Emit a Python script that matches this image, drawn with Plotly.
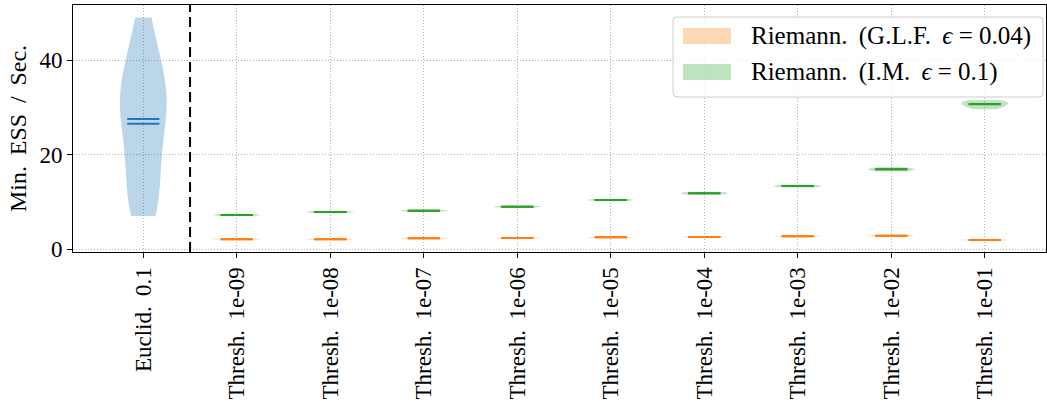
import numpy as np
import plotly.graph_objects as go

# ---------------- data ----------------
tick_labels = ["Euclid.\u2009 0.1", "Thresh.\u2009 1e-09", "Thresh.\u2009 1e-08", "Thresh.\u2009 1e-07",
               "Thresh.\u2009 1e-06", "Thresh.\u2009 1e-05", "Thresh.\u2009 1e-04", "Thresh.\u2009 1e-03",
               "Thresh.\u2009 1e-02", "Thresh.\u2009 1e-01"]
positions = [1, 2, 3, 4, 5, 6, 7, 8, 9, 10]

# Euclidean run: sample values (violin shape) plus mean / median
euclid_samples = [7, 8, 10, 13, 16, 19, 22, 25, 28, 30, 31, 32, 33, 35, 38, 41, 44, 49]
euclid_mean = 27.5
euclid_median = 26.5

glf_samples = [
    [1.90, 2.00, 2.05, 2.10, 2.20],
    [1.90, 2.00, 2.05, 2.10, 2.20],
    [2.11, 2.21, 2.26, 2.31, 2.41],
    [2.18, 2.28, 2.33, 2.38, 2.48],
    [2.32, 2.42, 2.47, 2.52, 2.62],
    [2.39, 2.49, 2.54, 2.59, 2.69],
    [2.54, 2.64, 2.69, 2.74, 2.84],
    [2.67, 2.77, 2.82, 2.87, 2.97],
    [1.75, 1.85, 1.90, 1.95, 2.05],
]
im_samples = [
    [6.95, 7.10, 7.20, 7.30, 7.45],
    [7.58, 7.73, 7.83, 7.93, 8.08],
    [7.85, 8.00, 8.10, 8.20, 8.35],
    [8.70, 8.86, 8.96, 9.06, 9.22],
    [10.10, 10.27, 10.37, 10.47, 10.64],
    [11.50, 11.68, 11.80, 11.92, 12.10],
    [13.00, 13.20, 13.33, 13.46, 13.66],
    [16.45, 16.70, 16.87, 17.04, 17.29],
    [29.60, 30.30, 30.70, 31.10, 31.50],
]
legend_labels = ["Riemann.\u2009 (G.L.F.\u2009 <i>ϵ</i> = 0.04)", "Riemann.\u2009 (I.M.\u2009 <i>ϵ</i> = 0.1)"]
y_title = "Min.\u2009 ESS\u2009 /\u2009 Sec.\u2002\u2002"

# ---------------- style ----------------
BLUE, ORANGE, GREEN = "#1f77b4", "#ff7f0e", "#2ca02c"
def rgba(hexc, a):
    h = hexc.lstrip("#")
    return f"rgba({int(h[0:2],16)},{int(h[2:4],16)},{int(h[4:6],16)},{a})"

FONT = "Liberation Serif"
FS_TICK = 23
FS_LEG = 25
FS_TITLE = 24

W, H = 1047, 408
ML, MR, MT, MB = 73, 1, 5, 156
PW, PH = W - ML - MR, H - MT - MB

fig = go.Figure()

def add_violin(pos, samples, color, bw=None):
    kw = dict(bandwidth=bw) if bw else {}
    fig.add_trace(go.Violin(
        x=[pos] * len(samples), y=samples, width=0.5, spanmode="hard",
        points=False, side="both", scalemode="width",
        fillcolor=rgba(color, 0.3), line=dict(width=0, color=rgba(color, 0.0)),
        box_visible=False, meanline_visible=False, hoverinfo="skip",
        showlegend=False, **kw))

def add_lines(pos, values, color):
    fig.add_trace(go.Scatter(
        x=[pos] * len(values), y=values,
        mode="markers", hoverinfo="skip", showlegend=False,
        marker=dict(symbol="line-ew", size=23, color=color,
                    line=dict(width=2, color=color))))

add_violin(positions[0], euclid_samples, BLUE, bw=7.0)
for p, s in zip(positions[1:], glf_samples):
    add_violin(p, s, ORANGE)
for p, s in zip(positions[1:], im_samples):
    add_violin(p, s, GREEN)

add_lines(positions[0], [euclid_mean, euclid_median], BLUE)
for p, s in zip(positions[1:], glf_samples):
    add_lines(p, [float(np.mean(s)), float(np.median(s))], ORANGE)
for p, s in zip(positions[1:], im_samples):
    add_lines(p, [float(np.mean(s)), float(np.median(s))], GREEN)

# separator line
fig.add_shape(type="line", xref="x", yref="paper", x0=1.5, x1=1.5, y0=0, y1=1,
              line=dict(color="black", width=2, dash="10px,5px"))

# manual legend (pixel helper -> paper coords)
def px(xp):
    return (xp - ML) / PW
def py(yp):
    return (H - MB - yp) / PH

x0, x1, y0, y1, r = 673, 1043, 17, 97, 4
path = (f"M{px(x0+r)},{py(y0)} L{px(x1-r)},{py(y0)} Q{px(x1)},{py(y0)} {px(x1)},{py(y0+r)} "
        f"L{px(x1)},{py(y1-r)} Q{px(x1)},{py(y1)} {px(x1-r)},{py(y1)} "
        f"L{px(x0+r)},{py(y1)} Q{px(x0)},{py(y1)} {px(x0)},{py(y1-r)} "
        f"L{px(x0)},{py(y0+r)} Q{px(x0)},{py(y0)} {px(x0+r)},{py(y0)} Z")
fig.add_shape(type="path", xref="paper", yref="paper", path=path,
              fillcolor="rgba(255,255,255,0.8)", line=dict(color="#cccccc", width=1))
for i, (lab, col) in enumerate(zip(legend_labels, [ORANGE, GREEN])):
    yc = 36 + 36 * i
    fig.add_shape(type="rect", xref="paper", yref="paper",
                  x0=px(683), x1=px(731), y0=py(yc - 8), y1=py(yc + 8),
                  fillcolor=rgba(col, 0.3), line=dict(width=0))
    fig.add_annotation(xref="paper", yref="paper", x=px(749), y=py(yc),
                       xanchor="left", yanchor="middle", showarrow=False,
                       text=lab, font=dict(family=FONT, size=FS_LEG, color="black"))

axis_common = dict(showline=True, linecolor="black", linewidth=1, mirror=True,
                   ticks="outside", ticklen=5, tickwidth=1, tickcolor="black",
                   showgrid=True, gridcolor="#b0b0b0", griddash="1px,2px", gridwidth=1,
                   zeroline=False, tickfont=dict(family=FONT, size=FS_TICK, color="black"))

fig.update_layout(
    width=W, height=H, margin=dict(l=ML, r=MR, t=MT, b=MB),
    paper_bgcolor="white", plot_bgcolor="white",
    violinmode="overlay", showlegend=False,
    font=dict(family=FONT, size=FS_TICK, color="black"),
    xaxis=dict(range=[0.248, 10.655], tickmode="array", tickvals=positions,
               ticktext=tick_labels, tickangle=-90, automargin=False, **axis_common),
    yaxis=dict(range=[-0.635, 51.64], tickmode="array", tickvals=[0, 20, 40],
               automargin=False,
               title=dict(text=y_title, font=dict(family=FONT, size=FS_TITLE), standoff=6),
               **axis_common),
)

fig.write_html("out.html", config={"displayModeBar": False},
               post_script="document.body.style.margin='0px';document.body.style.padding='0px';")
